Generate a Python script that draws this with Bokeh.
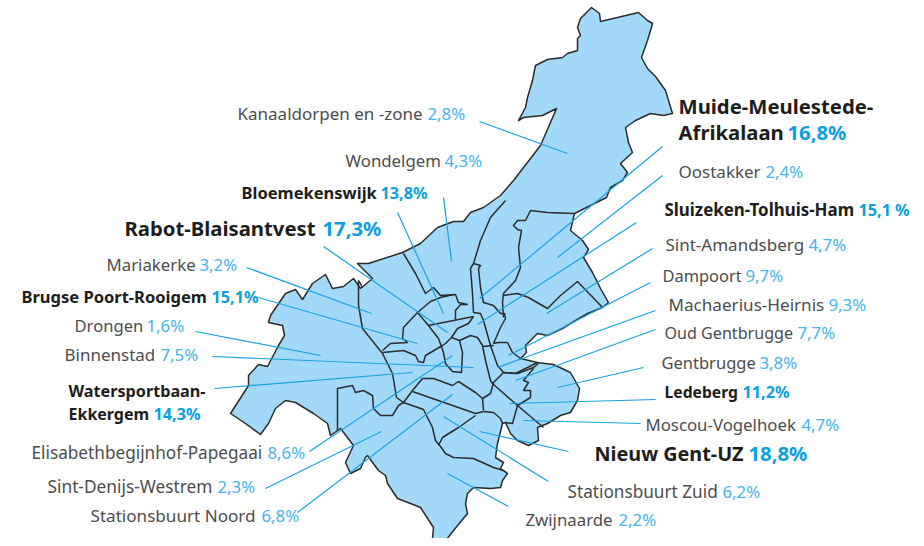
from bokeh.plotting import figure
from bokeh.models import ColumnDataSource, Range1d
from bokeh.core.properties import value
from bokeh.embed import file_html
from bokeh.resources import INLINE

FONT = "Noto Sans"
MAP_FILL = "#a2d9f9"
BORDER = "#2b2b2b"
LEADER = "#17a3e0"

outline = [(591,7),(599,13),(600,21),(638,12),(647,20),(652,23),(650,30),(647,40),(641,57),(647,68),(655,76),(665,90),
 (672,113),(663,115),(650,113),(635,120),(625,127),(628,142),(632,152),(620,163),(627,172),(622,180),(610,187),(606,197),
 (590,205),(574,213),(570,230),(582,240),(588,249),(583,257),(592,272),(600,288),(608,302),(602,307),(587,313),(570,323),
 (562,328),(547,335),(537,333),(532,338),(525,345),(526,352),(520,358),(537,362),(553,364),(570,372),(579,388),(577,400),
 (570,412),(560,415),(547,423),(537,427),(538,440),(528,445),(517,440),(510,433),(505,422),(502,423),(497,443),(495,457),
 (503,462),(500,468),(507,473),(502,480),(500,487),(490,488),(473,487),(467,493),(465,503),(467,513),(453,530),(443,543),
 (432,538),(433,527),(420,507),(410,503),(397,498),(387,483),(385,475),(378,470),(367,455),(365,457),(360,468),(350,473),
 (345,462),(353,445),(340,428),(330,435),(327,423),(313,413),(295,402),(285,400),(275,408),(268,423),(260,434),(245,423),
 (230,413),(248,385),(248,375),(258,364),(267,366),(278,345),(284,335),(282,325),(268,322),(270,315),(285,293),(295,289),
 (302,299),(312,283),(325,274),(332,288),(343,286),(353,278),(360,288),(372,278),(357,263),(368,263),(402,252),(420,243),
 (437,227),(453,221),(463,221),(470,212),(483,207),(500,195),(513,180),(540,145),(556,108),(542,115),(523,117),(518,120),
 (525,107),(527,97),(532,80),(535,65),(547,59),(562,57),(567,53),(577,50),(577,38),(580,35),(577,27),(580,18)]
outline_x = [pt[0] for pt in outline]
outline_y = [pt[1] for pt in outline]

borders = [
 [(403,253),(415,273),(425,293),(433,287),(440,295),(455,294),(458,302),(467,304)],
 [(467,304),(460,304),(455,310),(455,319)],
 [(358,280),(358,305),(362,328),(382,353),(392,373),(396,397),(403,402),(423,409),(432,427),(435,440),(440,446),(445,453),(453,457),(473,458),(493,467),(503,470),(507,473)],
 [(337,430),(337,388),(352,385),(355,392),(363,390),(372,395),(373,408),(380,415),(392,415),(398,405),(403,402)],
 [(403,402),(412,390),(422,378),(433,378),(452,385),(458,381),(475,392),(482,398),(483,410)],
 [(412,391),(475,413),(483,411)],
 [(475,415),(458,427),(442,437),(438,445)],
 [(483,411),(493,412),(500,418),(502,423)],
 [(482,398),(490,393),(493,382),(503,372),(517,373),(533,367),(538,363)],
 [(492,383),(517,405),(543,427)],
 [(517,405),(512,423),(505,422)],
 [(517,405),(530,397),(530,390),(523,390),(528,382),(523,380),(533,368)],
 [(382,352),(403,350),(415,355),(418,361),(423,362),(425,355),(442,345),(445,343),(451,337),(459,340),(462,352),(461,372),(452,371),(445,363),(443,352),(438,338),(428,325),(417,312)],
 [(417,312),(430,301),(440,297),(453,294)],
 [(417,312),(403,327),(402,338),(407,342),(390,343),(382,350)],
 [(428,325),(473,316)],
 [(473,316),(468,323),(457,328),(451,337)],
 [(459,340),(470,335),(477,337),(482,345),(485,360),(490,380),(492,383)],
 [(482,346),(493,345)],
 [(505,200),(490,217),(480,240),(473,263),(470,268),(472,293),(473,312),(480,313),(483,320),(490,345),(497,365),(503,372)],
 [(473,263),(480,265),(478,268),(480,287),(483,302),(493,305),(500,313),(504,313),(505,318),(500,327),(493,343)],
 [(574,213),(547,212),(530,210),(525,220),(517,220),(513,225),(517,229),(521,230),(518,247),(520,267),(515,280),(503,293),(502,302),(503,317)],
 [(503,295),(517,293),(528,297),(547,308),(560,295),(577,281),(602,307)],
 [(493,343),(498,342),(507,342),(512,352),(520,358)],
 [(503,372),(515,373),(537,362)],
 [(358,280),(362,287)],
]
border_xs = [[pt[0] for pt in b] for b in borders]
border_ys = [[pt[1] for pt in b] for b in borders]

leaders = [
 ((479,121),(567,153)),((443,197),(451,261)),((397,212),(443,313)),((323,246),(447,332)),
 ((246,267),(371,313)),((258,297),(417,343)),((195,331),(320,355)),((212,356),(473,367)),
 ((214,388),(412,372)),((309,451),(452,355)),((265,488),(381,431)),((297,512),(452,394)),
 ((447,473),(508,506)),((443,416),(548,481)),((479,431),(568,451)),((523,420),(640,423)),
 ((509,403),(655,399)),((557,387),(643,367)),((515,380),(655,329)),((497,367),(655,310)),
 ((508,355),(650,282)),((546,313),(652,248)),((477,324),(636,222)),((557,257),(662,175)),
 ((479,298),(662,146)),
]
leader_xs = [[a[0], b[0]] for a, b in leaders]
leader_ys = [[a[1], b[1]] for a, b in leaders]

names = ["Kanaaldorpen en -zone","Wondelgem","Bloemekenswijk","Rabot-Blaisantvest","Mariakerke","Brugse Poort-Rooigem",
 "Drongen","Binnenstad","Watersportbaan-","Ekkergem","Elisabethbegijnhof-Papegaai","Sint-Denijs-Westrem","Stationsbuurt Noord",
 "Zwijnaarde","Stationsbuurt Zuid","Nieuw Gent-UZ","Moscou-Vogelhoek","Ledeberg","Gentbrugge","Oud Gentbrugge",
 "Machaerius-Heirnis","Dampoort","Sint-Amandsberg","Sluizeken-Tolhuis-Ham","Oostakker","Muide-Meulestede-","Afrikalaan"]
pcts = ["2,8%","4,3%","13,8%","17,3%","3,2%","15,1%","1,6%","7,5%","","14,3%","8,6%","2,3%","6,8%","2,2%","6,2%","18,8%",
 "4,7%","11,2%","3,8%","7,7%","9,3%","9,7%","4,7%","15,1 %","2,4%","","16,8%"]
name_x = [237,345,241,124,106,21,74,64,68,68,31,47,90,525,567,594,645,664,661,664,668,662,665,664,678,678,678]
pct_x = [427,444,380,322,199,211,146,160,0,153,267,217,261,618,722,748,801,742,759,797,828,745,808,858,765,0,787]
base_y = [121,168,200,237,272,304,333,362,398,421,460,494,523,527,499,462,432,399,370,340,312,283,252,217,179,115,141]
tier = [0,0,1,2,0,1,0,0,1,1,0,0,0,0,0,2,0,1,0,0,0,0,0,1,0,2,2]
name_size = [17.0,16.8,16.5,20.3,16.8,16.5,16.6,17.0,16.2,16.0,17.2,17.3,17.1,16.8,17.2,19.8,16.8,15.7,16.5,16.1,17.1,16.4,17.0,16.9,17.0,20.3,20.3]

SIZE = {0: 16.8, 1: 16.2, 2: 20.3}
WEIGHT = {0: "normal", 1: "bold", 2: "bold"}
NAME_COL = {0: "#4d4d4d", 1: "#1d1d1b", 2: "#1d1d1b"}
PCT_COL = {0: "#45b5ea", 1: "#0aa0e2", 2: "#0aa0e2"}
Y_SHIFT = {0: -8, 1: -8, 2: -9.5}

p = figure(width=916, height=538, x_range=Range1d(0, 916), y_range=Range1d(538, 0),
           output_backend="svg", toolbar_location=None, min_border=0)
p.axis.visible = False
p.grid.visible = False
p.outline_line_color = None
p.background_fill_color = "white"

p.patch(outline_x, outline_y, fill_color=MAP_FILL, line_color=BORDER, line_width=1.5, line_join="round")
p.multi_line(border_xs, border_ys, line_color=BORDER, line_width=1.5, line_join="round")
p.multi_line(leader_xs, leader_ys, line_color=LEADER, line_width=1.2)

for t in SIZE:
    idx = [i for i in range(len(names)) if tier[i] == t]
    s1 = ColumnDataSource(dict(x=[name_x[i] for i in idx], y=[base_y[i] + Y_SHIFT[t] for i in idx],
                               t=[names[i] for i in idx], fs=[f"{name_size[i]}px" for i in idx]))
    p.text("x", "y", "t", source=s1, text_font=value(FONT), text_font_size="fs",
           text_font_style=WEIGHT[t], text_color=NAME_COL[t], text_baseline="alphabetic")
    idx2 = [i for i in idx if pcts[i]]
    s2 = ColumnDataSource(dict(x=[pct_x[i] for i in idx2], y=[base_y[i] + Y_SHIFT[t] for i in idx2], t=[pcts[i] for i in idx2]))
    p.text("x", "y", "t", source=s2, text_font=value(FONT), text_font_size=f"{SIZE[t]}px",
           text_font_style=WEIGHT[t], text_color=PCT_COL[t], text_baseline="alphabetic")

open("out.html", "w").write(file_html(p, INLINE))
